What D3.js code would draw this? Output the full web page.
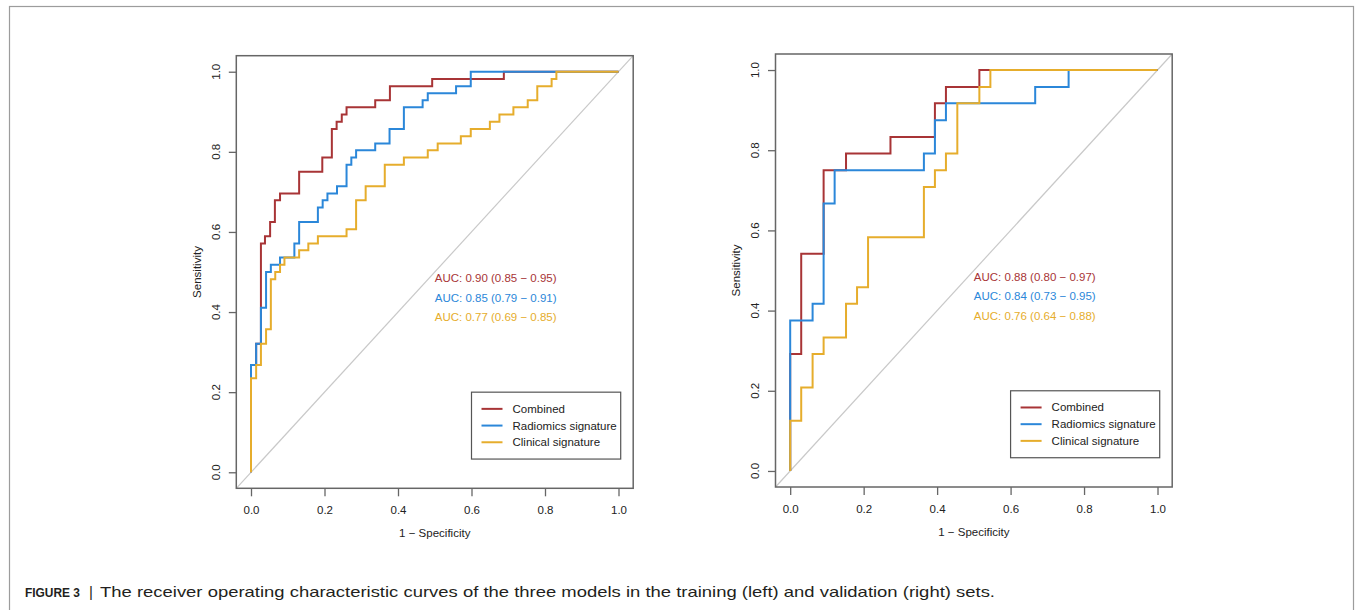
<!DOCTYPE html>
<html>
<head>
<meta charset="utf-8">
<script src="https://cdn.jsdelivr.net/npm/d3@7/dist/d3.min.js"></script>
<style>
body { margin: 0; background: #fff; }
text { font-family: "Liberation Sans", Arial, sans-serif; }
</style>
</head>
<body>
<div id="visSpace"></div>
<script>
//Model names and their line colours
var models = ["Combined", "Radiomics signature", "Clinical signature"];
var colors = ["#a83436", "#2b87d9", "#e6ad2c"];
//Tick values shared by both axes
var tickVals = [0, 0.2, 0.4, 0.6, 0.8, 1.0];

//Training set ROC points (1 - specificity, sensitivity)
var trainCombinedFpr = [0, 0, 0.014, 0.027, 0.038, 0.052, 0.065, 0.079, 0.131, 0.194, 0.220, 0.233, 0.247, 0.260, 0.338, 0.378, 0.493, 0.688, 1];
var trainCombinedTpr = [0, 0.268, 0.321, 0.571, 0.589, 0.625, 0.679, 0.696, 0.750, 0.786, 0.857, 0.875, 0.893, 0.911, 0.929, 0.964, 0.982, 1, 1];
var trainRadiomicsFpr = [0, 0, 0.014, 0.027, 0.041, 0.054, 0.079, 0.118, 0.131, 0.182, 0.195, 0.208, 0.234, 0.260, 0.273, 0.286, 0.338, 0.377, 0.416, 0.467, 0.481, 0.558, 0.598, 1];
var trainRadiomicsTpr = [0, 0.268, 0.321, 0.411, 0.500, 0.518, 0.536, 0.571, 0.625, 0.661, 0.679, 0.696, 0.714, 0.768, 0.786, 0.804, 0.821, 0.857, 0.911, 0.929, 0.946, 0.964, 1, 1];
var trainClinicalFpr = [0, 0, 0.014, 0.027, 0.041, 0.054, 0.066, 0.079, 0.091, 0.131, 0.156, 0.182, 0.260, 0.286, 0.312, 0.364, 0.416, 0.481, 0.508, 0.571, 0.598, 0.650, 0.676, 0.714, 0.753, 0.779, 0.818, 0.831, 1];
var trainClinicalTpr = [0, 0.235, 0.268, 0.321, 0.357, 0.482, 0.500, 0.518, 0.536, 0.554, 0.571, 0.589, 0.607, 0.679, 0.714, 0.768, 0.786, 0.804, 0.821, 0.839, 0.857, 0.875, 0.893, 0.911, 0.929, 0.964, 0.982, 1, 1];
var trainAuc = ["AUC: 0.90 (0.85 \u2212 0.95)", "AUC: 0.85 (0.79 \u2212 0.91)", "AUC: 0.77 (0.69 \u2212 0.85)"];

//Validation set ROC points
var valCombinedFpr = [0, 0, 0.030, 0.091, 0.152, 0.273, 0.394, 0.424, 0.515, 1];
var valCombinedTpr = [0, 0.292, 0.542, 0.750, 0.792, 0.833, 0.917, 0.958, 1, 1];
var valRadiomicsFpr = [0, 0, 0.061, 0.091, 0.121, 0.364, 0.394, 0.424, 0.667, 0.758, 1];
var valRadiomicsTpr = [0, 0.375, 0.417, 0.667, 0.750, 0.792, 0.875, 0.917, 0.958, 1, 1];
var valClinicalFpr = [0, 0, 0.030, 0.061, 0.091, 0.152, 0.182, 0.212, 0.364, 0.394, 0.424, 0.455, 0.515, 0.545, 1];
var valClinicalTpr = [0, 0.125, 0.208, 0.292, 0.333, 0.417, 0.458, 0.583, 0.708, 0.750, 0.792, 0.917, 0.958, 1, 1];
var valAuc = ["AUC: 0.88 (0.80 \u2212 0.97)", "AUC: 0.84 (0.73 \u2212 0.95)", "AUC: 0.76 (0.64 \u2212 0.88)"];

var width = 1357;
var height = 610;

var svg = d3.select("#visSpace")
            .append("svg")
            .attr("width", width)
            .attr("height", height);

//Outer frame of the figure
svg.append("rect")
   .attr("x", 9.5).attr("y", 6.5)
   .attr("width", 1344).attr("height", 650)
   .attr("fill", "none")
   .attr("stroke", "#9c9c9c")
   .attr("stroke-width", 1.2);

//Panel boxes in pixels (R adds 4% on each side)
var panels = [
  {x0: 236.3, x1: 633.2, y0: 55.7, y1: 488.3,
   curves: [[trainCombinedFpr, trainCombinedTpr], [trainRadiomicsFpr, trainRadiomicsTpr], [trainClinicalFpr, trainClinicalTpr]],
   auc: trainAuc},
  {x0: 775.5, x1: 1172.2, y0: 54, y1: 487,
   curves: [[valCombinedFpr, valCombinedTpr], [valRadiomicsFpr, valRadiomicsTpr], [valClinicalFpr, valClinicalTpr]],
   auc: valAuc}
];

var fmt = d3.format(".1f");

panels.forEach(function(p){
  var x = d3.scaleLinear().domain([-0.04, 1.04]).range([p.x0, p.x1]);
  var y = d3.scaleLinear().domain([-0.04, 1.04]).range([p.y1, p.y0]);
  var g = svg.append("g");

  //Reference diagonal across the whole box
  g.append("line")
   .attr("x1", x(-0.04)).attr("y1", y(-0.04))
   .attr("x2", x(1.04)).attr("y2", y(1.04))
   .attr("stroke", "#c9c9c9")
   .attr("stroke-width", 1.2);

  //ROC step curves
  var line = d3.line()
               .x(function(d){ return x(d[0]); })
               .y(function(d){ return y(d[1]); })
               .curve(d3.curveStepAfter);
  p.curves.forEach(function(c, i){
    g.append("path")
     .datum(d3.zip(c[0], c[1]))
     .attr("d", line)
     .attr("fill", "none")
     .attr("stroke", colors[i])
     .attr("stroke-width", 2);
  });

  //Plot box
  g.append("rect")
   .attr("x", p.x0).attr("y", p.y0)
   .attr("width", p.x1 - p.x0).attr("height", p.y1 - p.y0)
   .attr("fill", "none")
   .attr("stroke", "#666")
   .attr("stroke-width", 1.5);

  //X axis
  var xAxis = g.append("g")
               .attr("transform", "translate(0," + p.y1 + ")")
               .call(d3.axisBottom(x).tickValues(tickVals).tickFormat(fmt)
                       .tickSize(8).tickSizeOuter(0).tickPadding(10));
  xAxis.select(".domain").remove();
  xAxis.selectAll("line").attr("stroke", "#666").attr("stroke-width", 1.3);
  xAxis.selectAll("text").attr("font-size", "11.5px").attr("fill", "#222")
       .attr("font-family", "Liberation Sans, Arial, sans-serif");

  //Y axis ticks, labels rotated like R
  var yAxis = g.append("g")
               .attr("transform", "translate(" + p.x0 + ",0)")
               .call(d3.axisLeft(y).tickValues(tickVals).tickFormat("")
                       .tickSize(7.5).tickSizeOuter(0));
  yAxis.select(".domain").remove();
  yAxis.selectAll("line").attr("stroke", "#666").attr("stroke-width", 1.3);
  g.selectAll(".ylab")
   .data(tickVals)
   .enter()
   .append("text")
   .attr("transform", function(d){ return "translate(" + (p.x0 - 16.5) + "," + y(d) + ") rotate(-90)"; })
   .attr("text-anchor", "middle")
   .attr("font-size", "11.5px")
   .attr("fill", "#222")
   .text(fmt);

  //Axis titles
  g.append("text")
   .attr("x", x(0.5)).attr("y", p.y1 + 49)
   .attr("text-anchor", "middle")
   .attr("font-size", "11.5px").attr("fill", "#222")
   .text("1 \u2212 Specificity");
  g.append("text")
   .attr("transform", "translate(" + (p.x0 - 35.5) + "," + y(0.5) + ") rotate(-90)")
   .attr("text-anchor", "middle")
   .attr("font-size", "11.5px").attr("fill", "#222")
   .text("Sensitivity");

  //AUC labels
  g.selectAll(".auc")
   .data(p.auc)
   .enter()
   .append("text")
   .attr("x", x(0.5))
   .attr("y", function(d, i){ return y(0.485 - i * 0.049) + 4; })
   .attr("font-size", "11.5px")
   .attr("fill", function(d, i){ return colors[i]; })
   .text(function(d){ return d; });

  //Legend
  var lx = x(0.6), ly = y(0.2);
  var lw = x(1.006) - lx, lh = y(0.033) - ly;
  var legend = g.append("g");
  legend.append("rect")
        .attr("x", lx).attr("y", ly)
        .attr("width", lw).attr("height", lh)
        .attr("fill", "#fff")
        .attr("stroke", "#555")
        .attr("stroke-width", 1.2);
  models.forEach(function(m, i){
    var ry = ly + 16.7 + i * 16.7;
    legend.append("line")
          .attr("x1", lx + 10).attr("x2", lx + 31)
          .attr("y1", ry).attr("y2", ry)
          .attr("stroke", colors[i])
          .attr("stroke-width", 2);
    legend.append("text")
          .attr("x", lx + 41).attr("y", ry + 4)
          .attr("font-size", "11.5px").attr("fill", "#222")
          .text(m);
  });
});

//Figure caption
var caption = svg.append("g");
caption.append("text")
       .attr("x", 25).attr("y", 597)
       .attr("font-size", "13.5px").attr("font-weight", "bold").attr("fill", "#231f20")
       .attr("textLength", 55).attr("lengthAdjust", "spacingAndGlyphs")
       .text("FIGURE 3");
caption.append("text")
       .attr("x", 89).attr("y", 597)
       .attr("font-size", "15px").attr("fill", "#231f20")
       .text("|");
caption.append("text")
       .attr("x", 100).attr("y", 597)
       .attr("font-size", "15px").attr("fill", "#231f20")
       .attr("textLength", 895).attr("lengthAdjust", "spacingAndGlyphs")
       .text("The receiver operating characteristic curves of the three models in the training (left) and validation (right) sets.");
</script>
</body>
</html>
